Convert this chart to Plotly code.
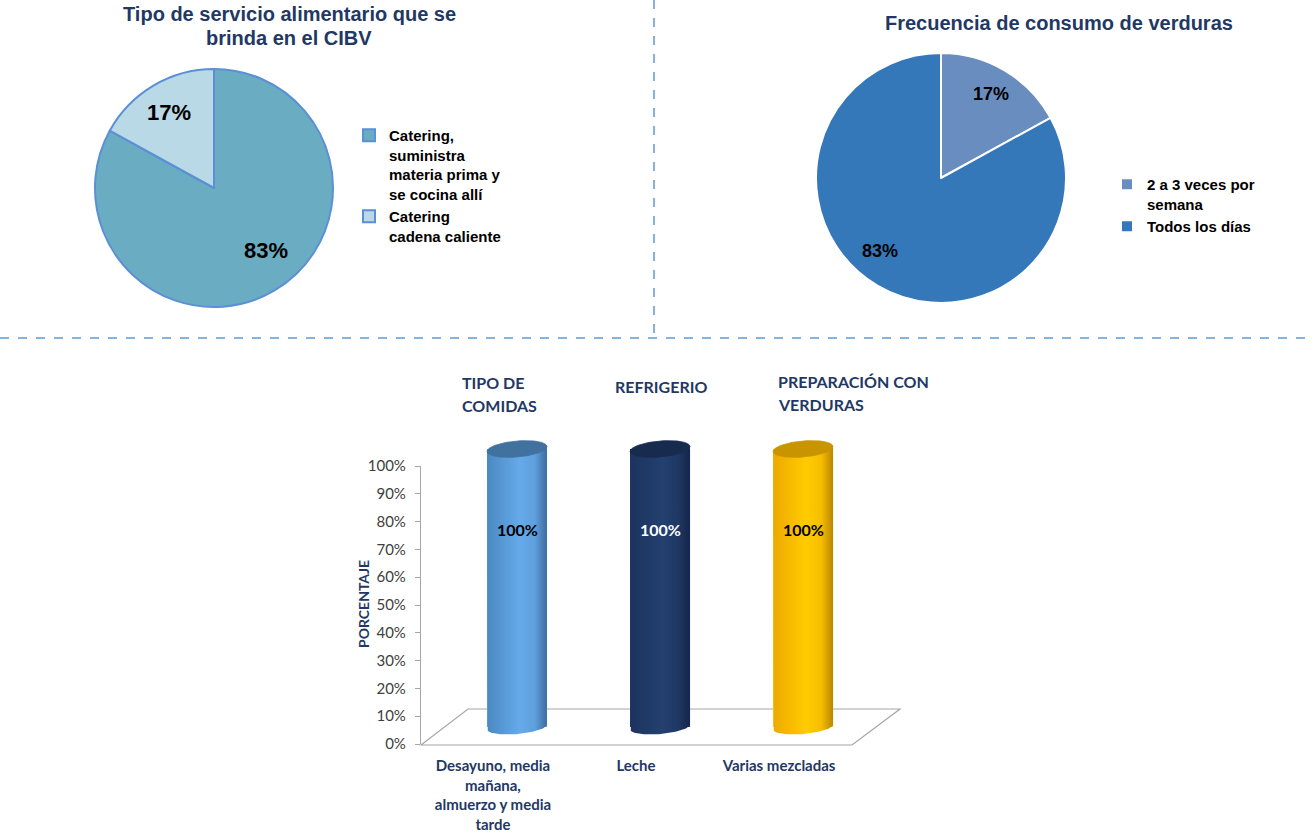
import math
import plotly.graph_objects as go

# ---- data -------------------------------------------------------------
servicio_labels = ["Catering,<br>suministra<br>materia prima y<br>se cocina allí",
                   "Catering<br>cadena caliente"]
servicio_pct = [83, 17]

verduras_labels = ["2 a 3 veces por<br>semana", "Todos los días"]
verduras_pct = [17, 83]

bar_categories = ["Desayuno, media<br>mañana,<br>almuerzo y media<br>tarde",
                  "Leche", "Varias mezcladas"]
bar_headers = ["TIPO DE<br>COMIDAS", "REFRIGERIO", "PREPARACIÓN CON<br>VERDURAS"]
bar_pct = [100, 100, 100]

y_ticks = list(range(0, 101, 10))
y_ticklabels = [f"{v}%" for v in y_ticks]
y_title = "PORCENTAJE"

# ---- page geometry ----------------------------------------------------
W, H = 1314, 839
NAVY = "#1F3864"
BAR_FONT = "Lato"
PIE_FONT = "Liberation Sans"


def px(x):
    return x / W


def py(y):
    return 1 - y / H


fig = go.Figure()

# ---- pies -------------------------------------------------------------
pies = [
    dict(labels=servicio_labels, values=servicio_pct, cx=214, cy=188, r=119,
         colors=["#6AADC2", "#B8D9E5"], line="#5B8FD6", legend="legend",
         lab_r=[0.68, 0.735], lab_da=[-9, 0], lab_size=22),
    dict(labels=verduras_labels, values=verduras_pct, cx=941, cy=178, r=125,
         colors=["#6A8DC0", "#3478BA"], line="#FFFFFF", legend="legend2",
         lab_r=[0.785, 0.76], lab_da=[0, 9], lab_size=18),
]

annotations = []
for p in pies:
    fig.add_trace(go.Pie(
        labels=p["labels"], values=p["values"], sort=False,
        direction="clockwise", rotation=0,
        domain=dict(x=[px(p["cx"] - p["r"]), px(p["cx"] + p["r"])],
                    y=[py(p["cy"] + p["r"]), py(p["cy"] - p["r"])]),
        marker=dict(colors=p["colors"], line=dict(color=p["line"], width=2)),
        textinfo="none", hoverinfo="label+percent", legend=p["legend"],
    ))
    total = sum(p["values"])
    start = 0.0
    for k, v in enumerate(p["values"]):
        span = 360.0 * v / total
        mid = math.radians(start + span / 2 + p["lab_da"][k])
        rr = p["r"] * p["lab_r"][k]
        annotations.append(dict(
            x=px(p["cx"] + rr * math.sin(mid)), y=py(p["cy"] - rr * math.cos(mid)),
            xref="paper", yref="paper", xanchor="center", yanchor="middle",
            showarrow=False, text=f"{round(100 * v / total)}%",
            font=dict(family=PIE_FONT, size=p["lab_size"], color="#000000", weight="bold"),
        ))
        start += span

# pie titles, one annotation per line
title_lines = [("Tipo de servicio alimentario que se", 289, 14),
               ("brinda en el CIBV", 289, 38),
               ("Frecuencia de consumo de verduras", 1059, 23)]
for txt, tx, ty in title_lines:
    annotations.append(dict(
        x=px(tx), y=py(ty), xref="paper", yref="paper", xanchor="center",
        yanchor="middle", text=txt, showarrow=False,
        font=dict(family=PIE_FONT, size=20, color=NAVY, weight="bold")))

# ---- cylinder bars ----------------------------------------------------
body_colors = ["#5CA0E0", "#213A66", "#FFC400"]
body_scales = [
    [[0, "#4A88C2"], [0.55, "#66AAEA"], [0.8, "#5E9FDD"], [1, "#3E6B9E"]],
    [[0, "#1C335E"], [0.55, "#23406F"], [0.8, "#1F3864"], [1, "#14264A"]],
    [[0, "#EDA900"], [0.55, "#FFCB00"], [0.8, "#F7BE00"], [1, "#B88700"]],
]
cap_colors = ["#41729F", "#172B4F", "#C89400"]
label_colors = ["#000000", "#FFFFFF", "#000000"]

PX_CAT = 143.0          # pixels per category step on the bar axis
PXU = 278 / 100.0       # pixels per percent on the bar axis
HW = 0.21               # half width of a cylinder in category units
A_PX = HW * PX_CAT      # ellipse half width, pixels
CAP_PX = 8.0            # top ellipse half height, pixels
BOT_PX = 7.0            # base ellipse half height, pixels
TILT = math.radians(5)  # perspective tilt of the ellipses
N = 48


def ellipse(cx, cy, b_px, t0, t1, n):
    """Points of a tilted ellipse centred on (cx, cy) in bar-axis units."""
    xs, ys = [], []
    for k in range(n + 1):
        t = t0 + (t1 - t0) * k / n
        dx, dy = A_PX * math.cos(t), b_px * math.sin(t)
        rx = dx * math.cos(TILT) - dy * math.sin(TILT)
        ry = dx * math.sin(TILT) + dy * math.cos(TILT)
        xs.append(cx + rx / PX_CAT)
        ys.append(cy + ry / PXU)
    return xs, ys


# invisible markers on the front axes so the scale and categories are drawn
fig.add_trace(go.Scatter(
    x=list(range(len(bar_pct))), y=bar_pct, mode="markers",
    marker=dict(opacity=0), xaxis="x", yaxis="y",
    showlegend=False, hoverinfo="skip",
))

fig.add_trace(go.Bar(
    x=list(range(len(bar_pct))), y=bar_pct, width=2 * HW,
    marker=dict(color=body_colors, line=dict(width=0)),
    xaxis="x2", yaxis="y2", showlegend=False, hoverinfo="skip",
))

for i, v in enumerate(bar_pct):
    # rounded body: side walls plus lower half of the base ellipse
    lx, ly = ellipse(i, v, CAP_PX, math.pi, math.pi, 1)
    bx, by = ellipse(i, 0, BOT_PX, math.pi, 2 * math.pi, N)
    rx, ry = ellipse(i, v, CAP_PX, 0, 0, 1)
    xs = lx[:1] + bx + rx[:1] + lx[:1]
    ys = ly[:1] + by + ry[:1] + ly[:1]
    fig.add_trace(go.Scatter(
        x=xs, y=ys, mode="lines", fill="toself", line=dict(width=0, color=body_colors[i]),
        fillgradient=dict(type="horizontal", colorscale=body_scales[i],
                          start=i - HW, stop=i + HW),
        xaxis="x2", yaxis="y2", showlegend=False, hoverinfo="skip",
    ))
    # top cap ellipse
    cx_, cy_ = ellipse(i, v, CAP_PX, 0, 2 * math.pi, 2 * N)
    fig.add_trace(go.Scatter(
        x=cx_, y=cy_, mode="lines", fill="toself",
        fillcolor=cap_colors[i], line=dict(width=0.8, color=cap_colors[i]),
        xaxis="x2", yaxis="y2", showlegend=False, hoverinfo="skip",
    ))
    annotations.append(dict(
        x=i, y=71, xref="x2", yref="y2", showarrow=False, text=f"{v}%",
        xanchor="center", yanchor="middle",
        font=dict(family=BAR_FONT, size=16, color=label_colors[i], weight="bold")))

# series headers above the cylinders (left edge, first-line centre)
header_pos = [(460, 382), (613, 386), (776, 381)]
for (hx, hy), txt in zip(header_pos, bar_headers):
    for j, line in enumerate(txt.split("<br>")):
        annotations.append(dict(
            x=px(hx), y=py(hy + 23.5 * j), xref="paper", yref="paper",
            xanchor="left", yanchor="middle", showarrow=False, text=line,
            font=dict(family=BAR_FONT, size=16, color=NAVY, weight="bold")))

# vertical axis title
annotations.append(dict(
    x=px(363), y=py(604), xref="paper", yref="paper", xanchor="center",
    yanchor="middle", textangle=-90, showarrow=False, text=y_title,
    font=dict(family=BAR_FONT, size=14, color=NAVY, weight="bold")))

# ---- shapes: separators and 3-D floor ---------------------------------
shapes = [
    dict(type="line", xref="paper", yref="paper", x0=px(654), x1=px(654), y0=py(0), y1=py(338),
         line=dict(color="#5B9BD5", width=1.5, dash="dash")),
    dict(type="line", xref="paper", yref="paper", x0=0, x1=1, y0=py(338), y1=py(338),
         line=dict(color="#5B9BD5", width=1.5, dash="dash")),
    dict(type="path", xref="paper", yref="paper", layer="below",
         path=(f"M {px(421)},{py(745)} L {px(468)},{py(709)} L {px(900)},{py(709)} "
               f"L {px(852)},{py(745)} Z"),
         line=dict(color="#A6A6A6", width=1.2), fillcolor="rgba(255,255,255,0)"),
]

legend_font = dict(family=PIE_FONT, size=15, color="#000000", weight="bold")
fig.update_layout(
    width=W, height=H, margin=dict(l=0, r=0, t=0, b=0, autoexpand=False),
    paper_bgcolor="white", plot_bgcolor="rgba(0,0,0,0)",
    annotations=annotations, shapes=shapes,
    legend=dict(x=px(349), y=py(119), xanchor="left", yanchor="top", valign="top",
                font=legend_font, bgcolor="rgba(0,0,0,0)", itemwidth=30),
    legend2=dict(x=px(1107), y=py(168), xanchor="left", yanchor="top", valign="top",
                 font=legend_font, bgcolor="rgba(0,0,0,0)", itemwidth=30),
    xaxis=dict(domain=[px(421), px(852)], range=[-0.503, 2.51], anchor="y",
               tickmode="array", tickvals=[0, 1, 2], ticktext=bar_categories,
               tickfont=dict(family=BAR_FONT, size=15, color=NAVY, weight="bold"),
               showline=False, showgrid=False, zeroline=False, ticks="",
               ticklabelstandoff=11, automargin=False, fixedrange=True),
    yaxis=dict(domain=[py(744), py(466)], range=[0, 100], anchor="x",
               tickmode="array", tickvals=y_ticks, ticktext=y_ticklabels,
               tickfont=dict(family=BAR_FONT, size=15, color="#404040"),
               showline=True, linecolor="#A6A6A6", linewidth=1.2,
               showgrid=False, zeroline=False,
               ticks="outside", ticklen=5, tickcolor="#A6A6A6", tickwidth=1.2,
               ticklabelstandoff=6, automargin=False),
    xaxis2=dict(domain=[px(444.5), px(876)], range=[-0.507, 2.51], anchor="y2",
                visible=False),
    yaxis2=dict(domain=[py(727 + 5 * PXU), py(727 - 105 * PXU)], range=[-5, 105],
                anchor="x2", visible=False),
)

fig.write_html("out.html")
